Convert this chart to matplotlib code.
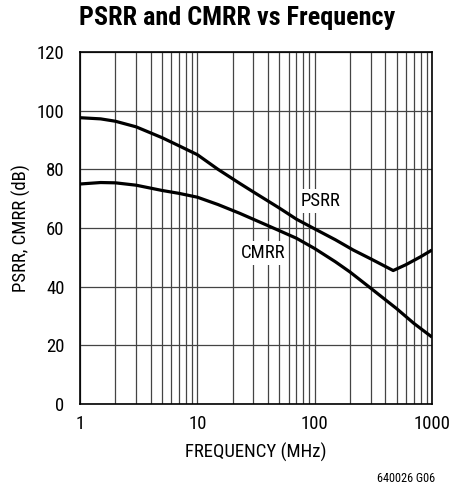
import numpy as np
import matplotlib.pyplot as plt
from matplotlib import font_manager

# frequency (MHz) and rejection (dB)
psrr_f = [1, 1.5, 2, 3, 5, 7, 10, 15, 23, 30, 50, 70, 100, 150, 213, 300, 467, 600, 800, 1000]
psrr_db = [97.6, 97.2, 96.4, 94.5, 90.8, 88.0, 85.0, 80.0, 75.2, 72.3, 66.8, 63.0, 59.7, 56.0, 52.5, 49.5, 45.5, 47.5, 50.2, 52.5]

cmrr_f = [1, 1.5, 2, 3, 5, 7, 10, 15, 23, 40, 70, 100, 150, 200, 300, 500, 700, 1000]
cmrr_db = [75.0, 75.5, 75.4, 74.6, 72.8, 71.8, 70.5, 68.0, 65.0, 60.8, 56.5, 53.0, 48.5, 45.0, 39.5, 32.5, 27.5, 22.8]

yticks = [0, 20, 40, 60, 80, 100, 120]
xticks = [1, 10, 100, 1000]
xticklabels = ['1', '10', '100', '1000']

# narrow font if there is one, else Liberation Sans
names = set(f.name for f in font_manager.fontManager.ttflist)
fam = 'Liberation Sans'
for n in ['Liberation Sans Narrow', 'Roboto Condensed', 'Open Sans Condensed', 'DejaVu Sans Condensed']:
    if n in names:
        fam = n
        break
plt.rcParams['font.family'] = [fam, 'DejaVu Sans']

fig = plt.figure(figsize=(4.53, 4.86), dpi=100)
ax = fig.add_axes([80/453, 82/486, 352/453, 352/486])

ax.plot(psrr_f, psrr_db, color='black', lw=2.3, solid_capstyle='butt', zorder=3)
ax.plot(cmrr_f, cmrr_db, color='black', lw=2.3, solid_capstyle='butt', zorder=3)

ax.set_xscale('log')
ax.set_xlim(1, 1000)
ax.set_ylim(0, 120)
ax.set_yticks(yticks)
ax.set_xticks(xticks)
ax.set_xticklabels(xticklabels)
ax.grid(True, which='both', color='#444444', lw=0.9)
ax.tick_params(which='both', length=0, labelsize=13.5)
ax.tick_params(axis='y', pad=11)
ax.tick_params(axis='x', pad=8)
for s in ax.spines.values():
    s.set_linewidth(1.2)

ax.text(113, 69.2, 'PSRR', ha='center', va='center', fontsize=13.5,
        bbox=dict(facecolor='white', edgecolor='none', pad=2), zorder=4)
ax.text(36.3, 51.5, 'CMRR', ha='center', va='center', fontsize=13.5,
        bbox=dict(facecolor='white', edgecolor='none', pad=2), zorder=4)

ax.set_xlabel('FREQUENCY (MHz)', fontsize=13.5)
ax.set_ylabel('PSRR, CMRR (dB)', fontsize=13.5)
ax.xaxis.label.set_va('center')
ax.yaxis.label.set_va('center')
ax.xaxis.set_label_coords(0.5, -(452 - 404)/352)
ax.yaxis.set_label_coords(-(80 - 21)/352, 0.5)

fig.text(237/453, 1 - 18/486, 'PSRR and CMRR vs Frequency', ha='center', va='center',
         fontsize=18.8, fontweight='bold')
fig.text(435/453, 1 - 478/486, '640026 G06', ha='right', va='center', fontsize=8.8)

fig.savefig('out.png', dpi=100)
